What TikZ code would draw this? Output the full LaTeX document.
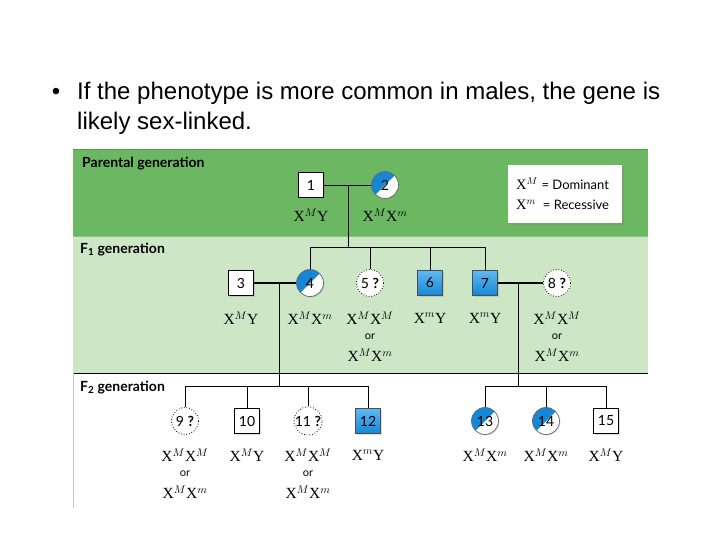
\documentclass[tikz,border=0pt]{standalone}
\usepackage{fontspec}
\setmainfont{Liberation Serif}
\newfontfamily\bulletfont{Liberation Sans}
\newfontfamily\gsans{Lato}
\usetikzlibrary{shadows}
\definecolor{pgreen}{RGB}{108,184,98}
\definecolor{pgreenline}{RGB}{80,160,75}
\definecolor{fgreen}{RGB}{205,230,198}
\definecolor{blueA}{RGB}{95,185,240}
\definecolor{blueB}{RGB}{20,135,215}
\definecolor{edgeline}{RGB}{190,200,215}
\tikzset{
  sym/.style={inner sep=0pt, font=\gsans\fontsize{14}{14}\selectfont, line width=0.7pt},
  male/.style={sym, draw=black, fill=white, minimum size=25pt, drop shadow={opacity=0.25, shadow xshift=1pt, shadow yshift=-1pt}},
  malea/.style={sym, draw=black!70, top color=blueA, bottom color=blueB, minimum size=25pt, drop shadow={opacity=0.25, shadow xshift=1pt, shadow yshift=-1pt}},
  female/.style={sym, circle, draw=black!60, fill=white, minimum size=27pt, drop shadow={opacity=0.25, shadow xshift=1pt, shadow yshift=-1pt}},
  femaleq/.style={sym, circle, draw=black, dotted, line width=0.9pt, fill=white, minimum size=27pt},
  carrier/.style={female, path picture={\fill[blueB] ([xshift=-2pt,yshift=2pt]path picture bounding box.north west) -- ([xshift=2pt,yshift=2pt]path picture bounding box.north east) -- ([xshift=-2pt,yshift=-2pt]path picture bounding box.south west) -- cycle;}},
  geno/.style={font=\fontsize{15.5}{15.5}\selectfont, inner sep=0pt},
  ortext/.style={font=\gsans\fontsize{11}{11}\selectfont, inner sep=0pt},
  band/.style={font=\gsans\bfseries\fontsize{14}{14}\selectfont, anchor=base west, inner sep=0pt},
  lin/.style={line width=0.8pt},
  matel/.style={line width=1.8pt},
  bul/.style={font=\bulletfont\fontsize{24}{24}\selectfont, anchor=base west, inner sep=0pt},
}
\begin{document}
\begin{tikzpicture}[x=1pt,y=-1pt]
\useasboundingbox (0,0) rectangle (720,540);
% bullet text
\node[bul, anchor=base] (bul) at (56,100) {\textbullet};
\node[bul] (txt1) at (77,100) {If the phenotype is more common in males, the gene is};
\node[bul] (txt2) at (77,130) {likely sex-linked.};
% bands
\fill[pgreen] (73,150) rectangle (648,236);
\draw[pgreenline, line width=1pt] (73,150) -- (648,150);
\fill[fgreen] (73,236) rectangle (648,373);
\draw[pgreen!80!white, line width=1pt] (73,236) -- (648,236);
\draw[black, line width=1pt] (73,373) -- (648,373);
\draw[edgeline, line width=1pt] (73,373) -- (73,508);
\node[band] (tp) at (82,168) {Parental generation};
\node[band] (t1) at (80,253) {F\textsubscript{1} generation};
\node[band] (t2) at (80,391) {F\textsubscript{2} generation};
% legend
\node[fill=white, minimum width=114pt, minimum height=58pt, drop shadow={opacity=0.35, shadow xshift=2pt, shadow yshift=-2pt}, inner sep=0pt] (leg) at (565,194) {};
\node[anchor=base west, inner sep=0pt] (l1) at (516,190) {\fontsize{14.5}{14.5}\selectfont X$^{M}$ {\gsans\fontsize{13}{13}\selectfont = Dominant}};
\node[anchor=base west, inner sep=0pt] (l2) at (516,210) {\fontsize{14.5}{14.5}\selectfont X$^{m}$ {\gsans\fontsize{13}{13}\selectfont\ = Recessive}};
% parental
\node[male] (n1) at (311,185) {1};
\node[carrier] (n2) at (385,185) {2};
\node[geno] at (311,215) {X$^{M}$Y};
\node[geno] at (385,215) {X$^{M}$X$^{m}$};
\coordinate (m12) at (348,185);
\coordinate (s1) at (348,247);
% F1
\node[male] (n3) at (241,283) {3};
\node[carrier] (n4) at (310,283) {4};
\node[femaleq] (n5) at (370,283) {5 \textbf{?}};
\node[malea] (n6) at (430,283) {6};
\node[malea] (n7) at (485,283) {7};
\node[femaleq] (n8) at (557,283) {8 \textbf{?}};
\node[geno] at (241,318) {X$^{M}$Y};
\node[geno] at (310,318) {X$^{M}$X$^{m}$};
\node[geno] at (370,318) {X$^{M}$X$^{M}$};
\node[ortext] at (370,337) {or};
\node[geno] at (370,355) {X$^{M}$X$^{m}$};
\node[geno] at (430,318) {X$^{m}$Y};
\node[geno] at (485,318) {X$^{m}$Y};
\node[geno] at (557,318) {X$^{M}$X$^{M}$};
\node[ortext] at (557,337) {or};
\node[geno] at (557,355) {X$^{M}$X$^{m}$};
\coordinate (m34) at (279,283);
\coordinate (m78) at (518,283);
\coordinate (s2) at (279,386);
\coordinate (s3) at (518,386);
% F2
\node[femaleq] (n9) at (185,421) {9 \textbf{?}};
\node[male] (n10) at (247,421) {10};
\node[femaleq] (n11) at (308,421) {11 \textbf{?}};
\node[malea] (n12) at (368,421) {12};
\node[carrier] (n13) at (485,421) {13};
\node[carrier] (n14) at (546,421) {14};
\node[male] (n15) at (606,421) {15};
\node[geno] at (185,455) {X$^{M}$X$^{M}$};
\node[ortext] at (185,474) {or};
\node[geno] at (185,492) {X$^{M}$X$^{m}$};
\node[geno] at (247,455) {X$^{M}$Y};
\node[geno] at (308,455) {X$^{M}$X$^{M}$};
\node[ortext] at (308,474) {or};
\node[geno] at (308,492) {X$^{M}$X$^{m}$};
\node[geno] at (368,455) {X$^{m}$Y};
\node[geno] at (485,455) {X$^{M}$X$^{m}$};
\node[geno] at (546,455) {X$^{M}$X$^{m}$};
\node[geno] at (606,455) {X$^{M}$Y};
% connectors
\draw[lin] (n1) -- (n2);
\draw[lin] (m12) -- (s1);
\draw[lin] (n4.north) |- (n7.north |- s1) -- (n7.north);
\draw[lin] (n5.north) -- (n5.north |- s1);
\draw[lin] (n6.north) -- (n6.north |- s1);
\draw[matel] (n3) -- (n4);
\draw[matel] (n7) -- (n8);
\draw[lin] (m34) -- (s2);
\draw[lin] (m78) -- (s3);
\draw[lin] (n9.north) |- (n12.north |- s2) -- (n12.north);
\draw[lin] (n10.north) -- (n10.north |- s2);
\draw[lin] (n11.north) -- (n11.north |- s2);
\draw[lin] (n13.north) |- (n15.north |- s3) -- (n15.north);
\draw[lin] (n14.north) -- (n14.north |- s3);
\end{tikzpicture}
\end{document}
